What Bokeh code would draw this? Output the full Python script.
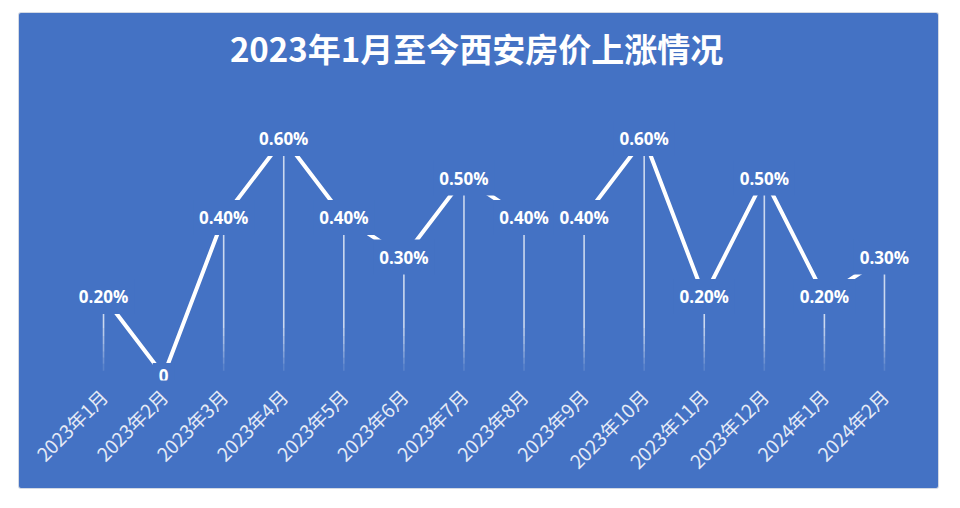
import math
from bokeh.plotting import figure
from bokeh.models import FactorRange, Range1d, Spacer, ColumnDataSource, Label
from bokeh.layouts import column, row
from bokeh.core.properties import value
from bokeh.embed import file_html
from bokeh.resources import INLINE

months = ["2023年1月", "2023年2月", "2023年3月", "2023年4月", "2023年5月", "2023年6月",
          "2023年7月", "2023年8月", "2023年9月", "2023年10月", "2023年11月", "2023年12月",
          "2024年1月", "2024年2月"]
rise = [0.2, 0.0, 0.4, 0.6, 0.4, 0.3, 0.5, 0.4, 0.4, 0.6, 0.2, 0.5, 0.2, 0.3]
labels = ["0.20%", "0", "0.40%", "0.60%", "0.40%", "0.30%", "0.50%", "0.40%",
          "0.40%", "0.60%", "0.20%", "0.50%", "0.20%", "0.30%"]
title_text = "2023年1月至今西安房价上涨情况"

BLUE = "#4472C4"

p = figure(width=919, height=475, output_backend="svg", toolbar_location=None,
           x_range=FactorRange(*months, range_padding=0),
           y_range=Range1d(-0.01266, 0.9165),
           y_axis_location=None,
           min_border_left=54, min_border_right=24, min_border_top=0, min_border_bottom=108)
p.background_fill_color = BLUE
p.border_fill_color = None
p.outline_line_color = None
p.styles = {"background-color": BLUE, "box-shadow": "0 0 0 1px #d3d9e4", "border-radius": "2px"}
p.xgrid.visible = False
p.ygrid.visible = False

ax = p.xaxis[0]
ax.axis_line_color = None
ax.major_tick_line_color = None
ax.minor_tick_line_color = None
ax.major_label_orientation = math.pi / 4
ax.major_label_text_color = "#E4EAF6"
ax.major_label_text_font = "Noto Sans CJK SC"
ax.major_label_text_font_size = "19px"
ax.major_label_standoff = 6

src = ColumnDataSource(dict(m=months, v=rise, lab=labels))

# drop lines from each point to the base, fading out near the bottom
fade_levels = [0.12, 0.10, 0.08, 0.06, 0.045, 0.03, 0.012]
fade_alpha = [0.62, 0.52, 0.42, 0.32, 0.22, 0.12]
drop_top = [max(r, fade_levels[0]) if r > 0 else 0.0 for r in rise]
pos = [r > 0 for r in rise]
p.segment(x0="m", y0="v", x1="m", y1="y1",
          source=ColumnDataSource(dict(m=months, v=rise, y1=[fade_levels[0] if q else 0.0 for q in pos])),
          line_color="white", line_alpha=0.72, line_width=1.6)
for i, al in enumerate(fade_alpha):
    hi = [fade_levels[i] if q else 0.0 for q in pos]
    lo = [fade_levels[i + 1] if q else 0.0 for q in pos]
    p.segment(x0=months, y0=hi, x1=months, y1=lo, line_color="white", line_alpha=al, line_width=1.6)

p.line(x="m", y="v", source=src, line_color="white", line_width=4, line_cap="round")

p.text(x="m", y="v", text="lab", source=src, text_color="white",
       text_font=value("Open Sans"), text_font_style="bold", text_font_size="17px",
       text_align="center", text_baseline="middle",
       background_fill_color=BLUE, padding=6)

title = Label(x=len(months) / 2 - 0.29, y=0.83, text=title_text, text_color="white",
              text_font="Noto Sans CJK SC", text_font_style="bold", text_font_size="33px",
              text_align="center", text_baseline="middle")
p.add_layout(title)

layout = column(Spacer(height=13), row(Spacer(width=19), p))
open("out.html", "w").write(file_html(layout, INLINE))
